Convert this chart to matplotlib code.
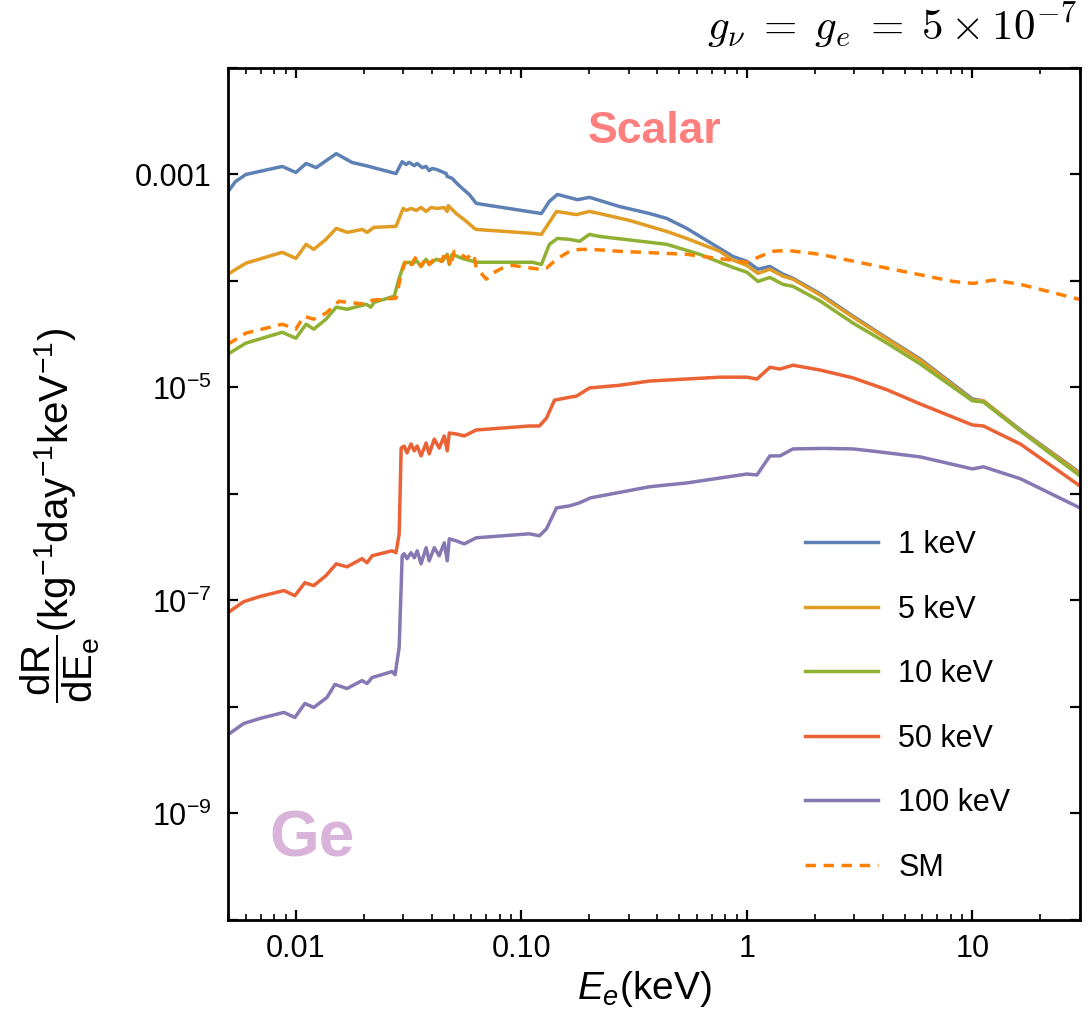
import matplotlib
matplotlib.use('Agg')
import matplotlib.pyplot as plt
from matplotlib.ticker import FixedLocator, FixedFormatter, LogLocator, NullFormatter

plt.rcParams['font.family'] = ['Liberation Sans', 'DejaVu Sans']
plt.rcParams['mathtext.fontset'] = 'custom'
plt.rcParams['mathtext.rm'] = 'Liberation Sans'
plt.rcParams['mathtext.it'] = 'Liberation Sans:italic'
plt.rcParams['mathtext.bf'] = 'Liberation Sans:bold'
plt.rcParams['mathtext.sf'] = 'Liberation Sans'

# ---------------- data (E in keV, rate in kg^-1 day^-1 keV^-1) ----------------
E_1keV = [0.005, 0.0054, 0.0060, 0.0072, 0.0087, 0.0100, 0.0111, 0.0123, 0.0151, 0.0177,
          0.0211, 0.0278, 0.0296, 0.0308, 0.0318, 0.0335, 0.0345, 0.0363, 0.0378, 0.0390,
          0.0402, 0.0423, 0.0464, 0.0469, 0.0493, 0.0519, 0.0547, 0.0587, 0.0631, 0.1227,
          0.1331, 0.1445, 0.1773, 0.2005, 0.2726, 0.37, 0.441, 0.541, 0.7586, 0.867, 1.0, 1.119, 1.265,
          1.445, 1.601, 2.11, 2.958, 4.19, 5.873, 10.0, 11.19, 16.34, 30.0]
R_1keV = [6.9e-4, 8.6e-4, 1.0e-3, 1.09e-3, 1.19e-3, 1.045e-3, 1.27e-3, 1.16e-3, 1.57e-3, 1.30e-3,
          1.19e-3, 1.02e-3, 1.32e-3, 1.24e-3, 1.30e-3, 1.21e-3, 1.27e-3, 1.16e-3, 1.19e-3, 1.09e-3,
          1.14e-3, 1.11e-3, 1.02e-3, 9.6e-4, 9.2e-4, 8.2e-4, 7.4e-4, 6.5e-4, 5.35e-4, 4.3e-4,
          5.6e-4, 6.5e-4, 5.8e-4, 6.1e-4, 5.0e-4, 4.3e-4, 3.87e-4, 3.12e-4, 2.02e-4, 1.7e-4, 1.53e-4, 1.29e-4, 1.37e-4,
          1.16e-4, 1.06e-4, 7.6e-5, 4.67e-5, 2.9e-5, 1.85e-5, 7.8e-6, 7.5e-6, 4.0e-6, 1.58e-6]

E_5keV = [0.005, 0.0060, 0.0087, 0.0100, 0.0111, 0.0120, 0.0136, 0.0151, 0.0169, 0.0197,
          0.0207, 0.0222, 0.0278, 0.0299, 0.0308, 0.0324, 0.0342, 0.0359, 0.0378, 0.0398,
          0.0423, 0.0455, 0.0469, 0.0474, 0.0514, 0.0570, 0.0618, 0.0631, 0.1119, 0.1227,
          0.1431, 0.1755, 0.2005, 0.2222, 0.302, 0.441, 0.541, 0.7586, 0.867, 1.0, 1.119, 1.265, 1.445,
          1.601, 2.11, 2.958, 4.19, 5.873, 10.0, 11.19, 16.34, 30.0]
R_5keV = [1.16e-4, 1.47e-4, 1.86e-4, 1.63e-4, 2.21e-4, 1.98e-4, 2.46e-4, 3.12e-4, 2.86e-4, 3.05e-4,
          2.86e-4, 3.19e-4, 3.26e-4, 4.8e-4, 4.6e-4, 4.8e-4, 4.6e-4, 4.9e-4, 4.5e-4, 4.9e-4,
          4.8e-4, 4.9e-4, 4.5e-4, 5.1e-4, 4.3e-4, 3.63e-4, 3.12e-4, 3.05e-4, 2.8e-4, 2.74e-4,
          4.5e-4, 4.2e-4, 4.5e-4, 4.3e-4, 3.7e-4, 2.92e-4, 2.51e-4, 1.9e-4, 1.57e-4, 1.40e-4, 1.18e-4, 1.29e-4, 1.11e-4,
          1.04e-4, 7.4e-5, 4.57e-5, 2.85e-5, 1.81e-5, 7.6e-6, 7.5e-6, 3.95e-6, 1.55e-6]

E_10keV = [0.005, 0.0060, 0.0087, 0.0100, 0.0111, 0.0120, 0.0136, 0.0151, 0.0169, 0.0205,
           0.0215, 0.0222, 0.0273, 0.0287, 0.0302, 0.0318, 0.0328, 0.0342, 0.0359, 0.0378,
           0.0390, 0.0419, 0.0446, 0.0469, 0.0479, 0.0493, 0.0547, 0.0631, 0.1119, 0.1227,
           0.1331, 0.1445, 0.1634, 0.1811, 0.2005, 0.2222, 0.441, 0.618, 0.7586, 0.867, 1.0, 1.119,
           1.265, 1.445, 1.601, 2.11, 2.958, 4.19, 5.873, 10.0, 11.19, 16.34, 30.0]
R_10keV = [2.06e-5, 2.61e-5, 3.3e-5, 2.9e-5, 3.93e-5, 3.53e-5, 4.38e-5, 5.68e-5, 5.43e-5, 6.05e-5,
           5.68e-5, 6.3e-5, 7.2e-5, 1.06e-4, 1.47e-4, 1.5e-4, 1.43e-4, 1.56e-4, 1.37e-4, 1.6e-4,
           1.43e-4, 1.6e-4, 1.53e-4, 1.78e-4, 1.43e-4, 1.78e-4, 1.63e-4, 1.5e-4, 1.5e-4, 1.43e-4,
           2.21e-4, 2.51e-4, 2.46e-4, 2.36e-4, 2.74e-4, 2.62e-4, 2.21e-4, 1.78e-4, 1.5e-4, 1.34e-4, 1.21e-4, 9.9e-5,
           1.08e-4, 9.3e-5, 8.9e-5, 6.5e-5, 4.02e-5, 2.6e-5, 1.66e-5, 7.5e-6, 7.3e-6, 3.9e-6, 1.48e-6]

E_50keV = [0.005, 0.00587, 0.00692, 0.00885, 0.0099, 0.01096, 0.0120, 0.01359, 0.0151, 0.01685,
           0.01965, 0.02068, 0.02177, 0.0267, 0.0278, 0.0287, 0.0293, 0.0302, 0.0311, 0.0324,
           0.0335, 0.0345, 0.0359, 0.0378, 0.0390, 0.0411, 0.0432, 0.0455, 0.0469, 0.0479,
           0.0514, 0.0558, 0.0631, 0.1085, 0.1202, 0.1292, 0.1402, 0.1634, 0.1755, 0.2005,
           0.2726, 0.3706, 0.7586, 1.0, 1.108, 1.265, 1.402, 1.601, 2.11, 2.958, 4.19, 5.873, 10.0,
           11.19, 16.34, 30.0]
R_50keV = [7.7e-8, 9.75e-8, 1.09e-7, 1.24e-7, 1.11e-7, 1.47e-7, 1.38e-7, 1.71e-7, 2.21e-7, 2.07e-7,
           2.47e-7, 2.26e-7, 2.63e-7, 2.93e-7, 2.81e-7, 4.2e-7, 2.7e-6, 2.82e-6, 2.43e-6, 2.95e-6,
           2.54e-6, 2.82e-6, 2.28e-6, 3.01e-6, 2.38e-6, 3.28e-6, 2.7e-6, 3.51e-6, 2.54e-6, 3.74e-6,
           3.66e-6, 3.51e-6, 3.99e-6, 4.35e-6, 4.35e-6, 5.16e-6, 7.6e-6, 8.1e-6, 8.3e-6, 9.9e-6,
           1.05e-5, 1.15e-5, 1.25e-5, 1.25e-5, 1.2e-5, 1.55e-5, 1.49e-5, 1.62e-5, 1.46e-5, 1.23e-5, 9.5e-6, 7.0e-6, 4.45e-6,
           4.35e-6, 2.94e-6, 1.19e-6]

E_100keV = [0.005, 0.00587, 0.00692, 0.00885, 0.0099, 0.01096, 0.0120, 0.01374, 0.0149, 0.01685,
            0.01965, 0.02068, 0.02177, 0.0267, 0.02754, 0.0287, 0.0296, 0.0302, 0.0311, 0.0324,
            0.0335, 0.0345, 0.0359, 0.0378, 0.0390, 0.0411, 0.0432, 0.0455, 0.0469, 0.0479,
            0.0514, 0.0558, 0.0631, 0.1085, 0.1202, 0.1292, 0.1431, 0.1634, 0.1811, 0.2025,
            0.3706, 0.541, 1.0, 1.108, 1.265, 1.402, 1.601, 2.198, 2.958, 3.784, 5.873, 10.0, 11.19,
            16.34, 30.0]
R_100keV = [5.5e-9, 7.0e-9, 7.8e-9, 8.9e-9, 7.97e-9, 1.08e-8, 9.9e-9, 1.23e-8, 1.63e-8, 1.49e-8,
            1.77e-8, 1.66e-8, 1.89e-8, 2.15e-8, 2.01e-8, 3.61e-8, 2.63e-7, 2.75e-7, 2.47e-7, 2.81e-7,
            2.52e-7, 2.93e-7, 2.21e-7, 3.13e-7, 2.36e-7, 3.13e-7, 2.63e-7, 3.48e-7, 2.36e-7, 3.8e-7,
            3.63e-7, 3.4e-7, 3.88e-7, 4.23e-7, 4.05e-7, 4.71e-7, 7.4e-7, 7.74e-7, 8.26e-7, 9.2e-7,
            1.17e-6, 1.27e-6, 1.54e-6, 1.51e-6, 2.28e-6, 2.28e-6, 2.65e-6, 2.68e-6, 2.65e-6, 2.5e-6, 2.23e-6, 1.72e-6, 1.8e-6,
            1.39e-6, 7.4e-7]

E_SM = [0.005, 0.0060, 0.0087, 0.0100, 0.01085, 0.0120, 0.0136, 0.0155, 0.0205, 0.0218,
        0.0278, 0.0293, 0.0308, 0.0324, 0.0342, 0.0359, 0.0378, 0.0390, 0.0419, 0.0441,
        0.0464, 0.0484, 0.0504, 0.0547, 0.0575, 0.0600, 0.0618, 0.0631, 0.0664, 0.0699,
        0.0743, 0.0823, 0.0912, 0.1202, 0.1292, 0.1431, 0.1634, 0.1811, 0.2067, 0.2726,
        0.541, 1.0, 1.142, 1.305, 1.506, 2.11, 4.19, 8.235, 10.1, 12.4, 16.34, 30.0]
R_SM = [2.55e-5, 3.24e-5, 3.93e-5, 3.53e-5, 4.67e-5, 4.38e-5, 4.98e-5, 6.45e-5, 6.05e-5, 6.6e-5,
        6.9e-5, 1.16e-4, 1.6e-4, 1.43e-4, 1.7e-4, 1.37e-4, 1.67e-4, 1.43e-4, 1.7e-4, 1.53e-4,
        1.9e-4, 1.37e-4, 1.9e-4, 1.74e-4, 1.63e-4, 1.82e-4, 1.7e-4, 1.32e-4, 1.18e-4, 1.04e-4,
        1.18e-4, 1.32e-4, 1.4e-4, 1.29e-4, 1.32e-4, 1.6e-4, 1.9e-4, 1.98e-4, 1.98e-4, 1.9e-4,
        1.78e-4, 1.5e-4, 1.7e-4, 1.9e-4, 1.94e-4, 1.78e-4, 1.32e-4, 9.9e-5, 9.5e-5, 1.02e-4, 9.3e-5, 6.7e-5]

series_labels = ['1 keV', '5 keV', '10 keV', '50 keV', '100 keV']
series_E = [E_1keV, E_5keV, E_10keV, E_50keV, E_100keV]
series_R = [R_1keV, R_5keV, R_10keV, R_50keV, R_100keV]
series_colors = ['#5E81B5', '#E19C24', '#8FB032', '#EB6235', '#8778B3']
sm_label = 'SM'
sm_color = '#FF8000'

x_tick_vals = [0.01, 0.1, 1, 10]
x_tick_labels = ['0.01', '0.10', '1', '10']
y_tick_vals = [1e-10, 1e-9, 1e-8, 1e-7, 1e-6, 1e-5, 1e-4, 1e-3, 1e-2]
y_tick_labels = ['', r'$10^{-9}$', '', r'$10^{-7}$', '', r'$10^{-5}$', '', '0.001', '']

# ---------------- figure ----------------
fig = plt.figure(figsize=(10.88, 10.23), dpi=100)
ax = fig.add_axes([228/1088, 1-920/1023, 852/1088, 852/1023])

lw = 2.5
handles = []
for E, R, lab, c in zip(series_E, series_R, series_labels, series_colors):
    h, = ax.plot(E, R, color=c, lw=lw, label=lab, solid_joinstyle='round')
    handles.append(h)
h_sm, = ax.plot(E_SM, R_SM, color=sm_color, lw=lw, ls=(0, (3, 2.2)), label=sm_label)
handles.append(h_sm)

ax.set_xscale('log')
ax.set_yscale('log')
ax.set_xlim(0.005, 30)
ax.set_ylim(1e-10, 1e-2)

ax.xaxis.set_major_locator(FixedLocator(x_tick_vals))
ax.xaxis.set_major_formatter(FixedFormatter(x_tick_labels))
ax.xaxis.set_minor_locator(LogLocator(base=10, subs=range(2, 10), numticks=20))
ax.xaxis.set_minor_formatter(NullFormatter())
ax.yaxis.set_major_locator(FixedLocator(y_tick_vals))
ax.yaxis.set_major_formatter(FixedFormatter(y_tick_labels))
ax.yaxis.set_minor_locator(FixedLocator([]))

ax.tick_params(which='both', direction='in', top=True, right=True, labelsize=22)
ax.tick_params(which='major', length=7, width=1.6)
ax.tick_params(which='minor', length=4, width=1.2)
ax.tick_params(axis='x', pad=10)
ax.tick_params(axis='y', pad=12)
for s in ax.spines.values():
    s.set_linewidth(2.0)

ax.set_xlabel(r'$E_e$(keV)', fontsize=28)
ax.xaxis.set_label_coords((644-228)/852, -0.058)
fig.text(60/1088, 1-515/1023,
         r'$\dfrac{\mathrm{dR}}{\mathrm{dE_e}}$(kg$^{-1}$day$^{-1}$keV$^{-1}$)',
         rotation=90, ha='center', va='center', fontsize=29)

fig.text(1077/1088, 1-40/1023, r'$g_\nu\;=\;g_e\;=\;5\times10^{-7}$',
         ha='right', va='baseline', fontsize=31, math_fontfamily='cm')

ax.text(0.501, 0.926, 'Scalar', transform=ax.transAxes, ha='center', va='center',
        fontsize=32, fontweight='bold', color='#FF7F7F')
ax.text(0.0986, 0.095, 'Ge', transform=ax.transAxes, ha='center', va='center',
        fontsize=46, fontweight='bold', color='#D9B3D9')

ax.legend(handles=handles, loc='upper left', bbox_to_anchor=((805-228)/852, (920-530)/852),
          frameon=False, fontsize=22, handlelength=2.4, handletextpad=0.65,
          labelspacing=1.13, borderpad=0, borderaxespad=0)

fig.savefig('out.png', dpi=100)
